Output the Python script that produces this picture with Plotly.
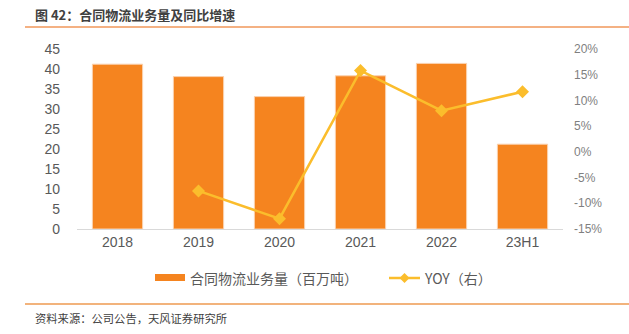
import plotly.graph_objects as go

categories = ["2018", "2019", "2020", "2021", "2022", "23H1"]
volume = [41.2, 38.1, 33.1, 38.3, 41.4, 21.2]
yoy_cats = ["2019", "2020", "2021", "2022", "23H1"]
yoy = [-7.6, -13.0, 15.8, 8.0, 11.7]

left_ticks = list(range(0, 50, 5))
right_ticks = list(range(-15, 25, 5))
right_labels = [f"{v}%" if v >= 0 else f"-{abs(v)}%" for v in right_ticks]

BAR = "#F5841F"
LINE = "#FBBD2C"
CJK = "Noto Sans CJK SC"
NUM = "Liberation Sans, Arial, sans-serif"

fig = go.Figure()
fig.add_trace(go.Bar(x=categories, y=volume, marker=dict(color=BAR, line=dict(color="#FAD2B0", width=1)),
                     name="合同物流业务量（百万吨）", showlegend=False))
fig.add_trace(go.Scatter(x=yoy_cats, y=yoy, yaxis="y2", mode="lines+markers",
                         line=dict(color=LINE, width=2.5),
                         marker=dict(symbol="diamond", size=10, color=LINE),
                         name="YOY（右）", showlegend=False))

L, R, T, B = 77, 66, 49, 105
W, H = 629, 334
pw, ph = W - L - R, H - T - B

def px(x):
    return (x - L) / pw

def py(y):
    return (H - B - y) / ph

fig.update_layout(
    width=W, height=H,
    margin=dict(l=L, r=R, t=T, b=B),
    plot_bgcolor="white", paper_bgcolor="white",
    bargap=0.38,
    xaxis=dict(type="category", showgrid=False, showline=True, linecolor="#D9D9D9", linewidth=1,
               ticks="", tickfont=dict(family=NUM, size=14, color="#595959")),
    yaxis=dict(range=[0, 45], tickvals=left_ticks, showgrid=False, zeroline=False,
               tickfont=dict(family=NUM, size=14, color="#595959"), ticks="", ticklabelstandoff=16),
    yaxis2=dict(range=[-15, 20], tickvals=right_ticks, ticktext=right_labels, overlaying="y",
                side="right", showgrid=False, zeroline=False, ticks="", ticklabelstandoff=10,
                tickfont=dict(family=NUM, size=12, color="#7F7F7F")),
    showlegend=False,
)

shapes = [
    dict(type="line", xref="paper", yref="paper", x0=px(25), x1=px(629), y0=py(27), y1=py(27),
         line=dict(color="#F4B183", width=2)),
    dict(type="line", xref="paper", yref="paper", x0=px(25), x1=px(629), y0=py(304), y1=py(304),
         line=dict(color="#EE9A50", width=1.5)),
    dict(type="rect", xref="paper", yref="paper", x0=px(155), x1=px(185), y0=py(274), y1=py(281),
         fillcolor=BAR, line=dict(width=0)),
    dict(type="line", xref="paper", yref="paper", x0=px(389), x1=px(420), y0=py(278), y1=py(278),
         line=dict(color=LINE, width=2.5)),
]
fig.update_layout(shapes=shapes)

annotations = [
    dict(text="<b>图 42：合同物流业务量及同比增速</b>", x=px(33), y=py(14), xref="paper", yref="paper",
         xanchor="left", yanchor="middle", showarrow=False, font=dict(family=CJK, size=13, color="#404040")),
    dict(text="资料来源：公司公告，天风证券研究所", x=px(33), y=py(318), xref="paper", yref="paper",
         xanchor="left", yanchor="middle", showarrow=False, font=dict(family=CJK, size=11.3, color="#404040")),
    dict(text="合同物流业务量（百万吨）", x=px(188), y=py(278), xref="paper", yref="paper",
         xanchor="left", yanchor="middle", showarrow=False, font=dict(family=CJK, size=14, color="#595959")),
    dict(text="YOY（右）", x=px(422), y=py(278), xref="paper", yref="paper",
         xanchor="left", yanchor="middle", showarrow=False, font=dict(family=CJK, size=14, color="#595959")),
]
fig.update_layout(annotations=annotations)

cx, cy, d = 404.5, 278, 5
path = f"M {px(cx)} {py(cy - d)} L {px(cx + d)} {py(cy)} L {px(cx)} {py(cy + d)} L {px(cx - d)} {py(cy)} Z"
fig.add_shape(type="path", xref="paper", yref="paper", path=path, fillcolor=LINE, line=dict(width=0))

fig.write_html("out.html")
